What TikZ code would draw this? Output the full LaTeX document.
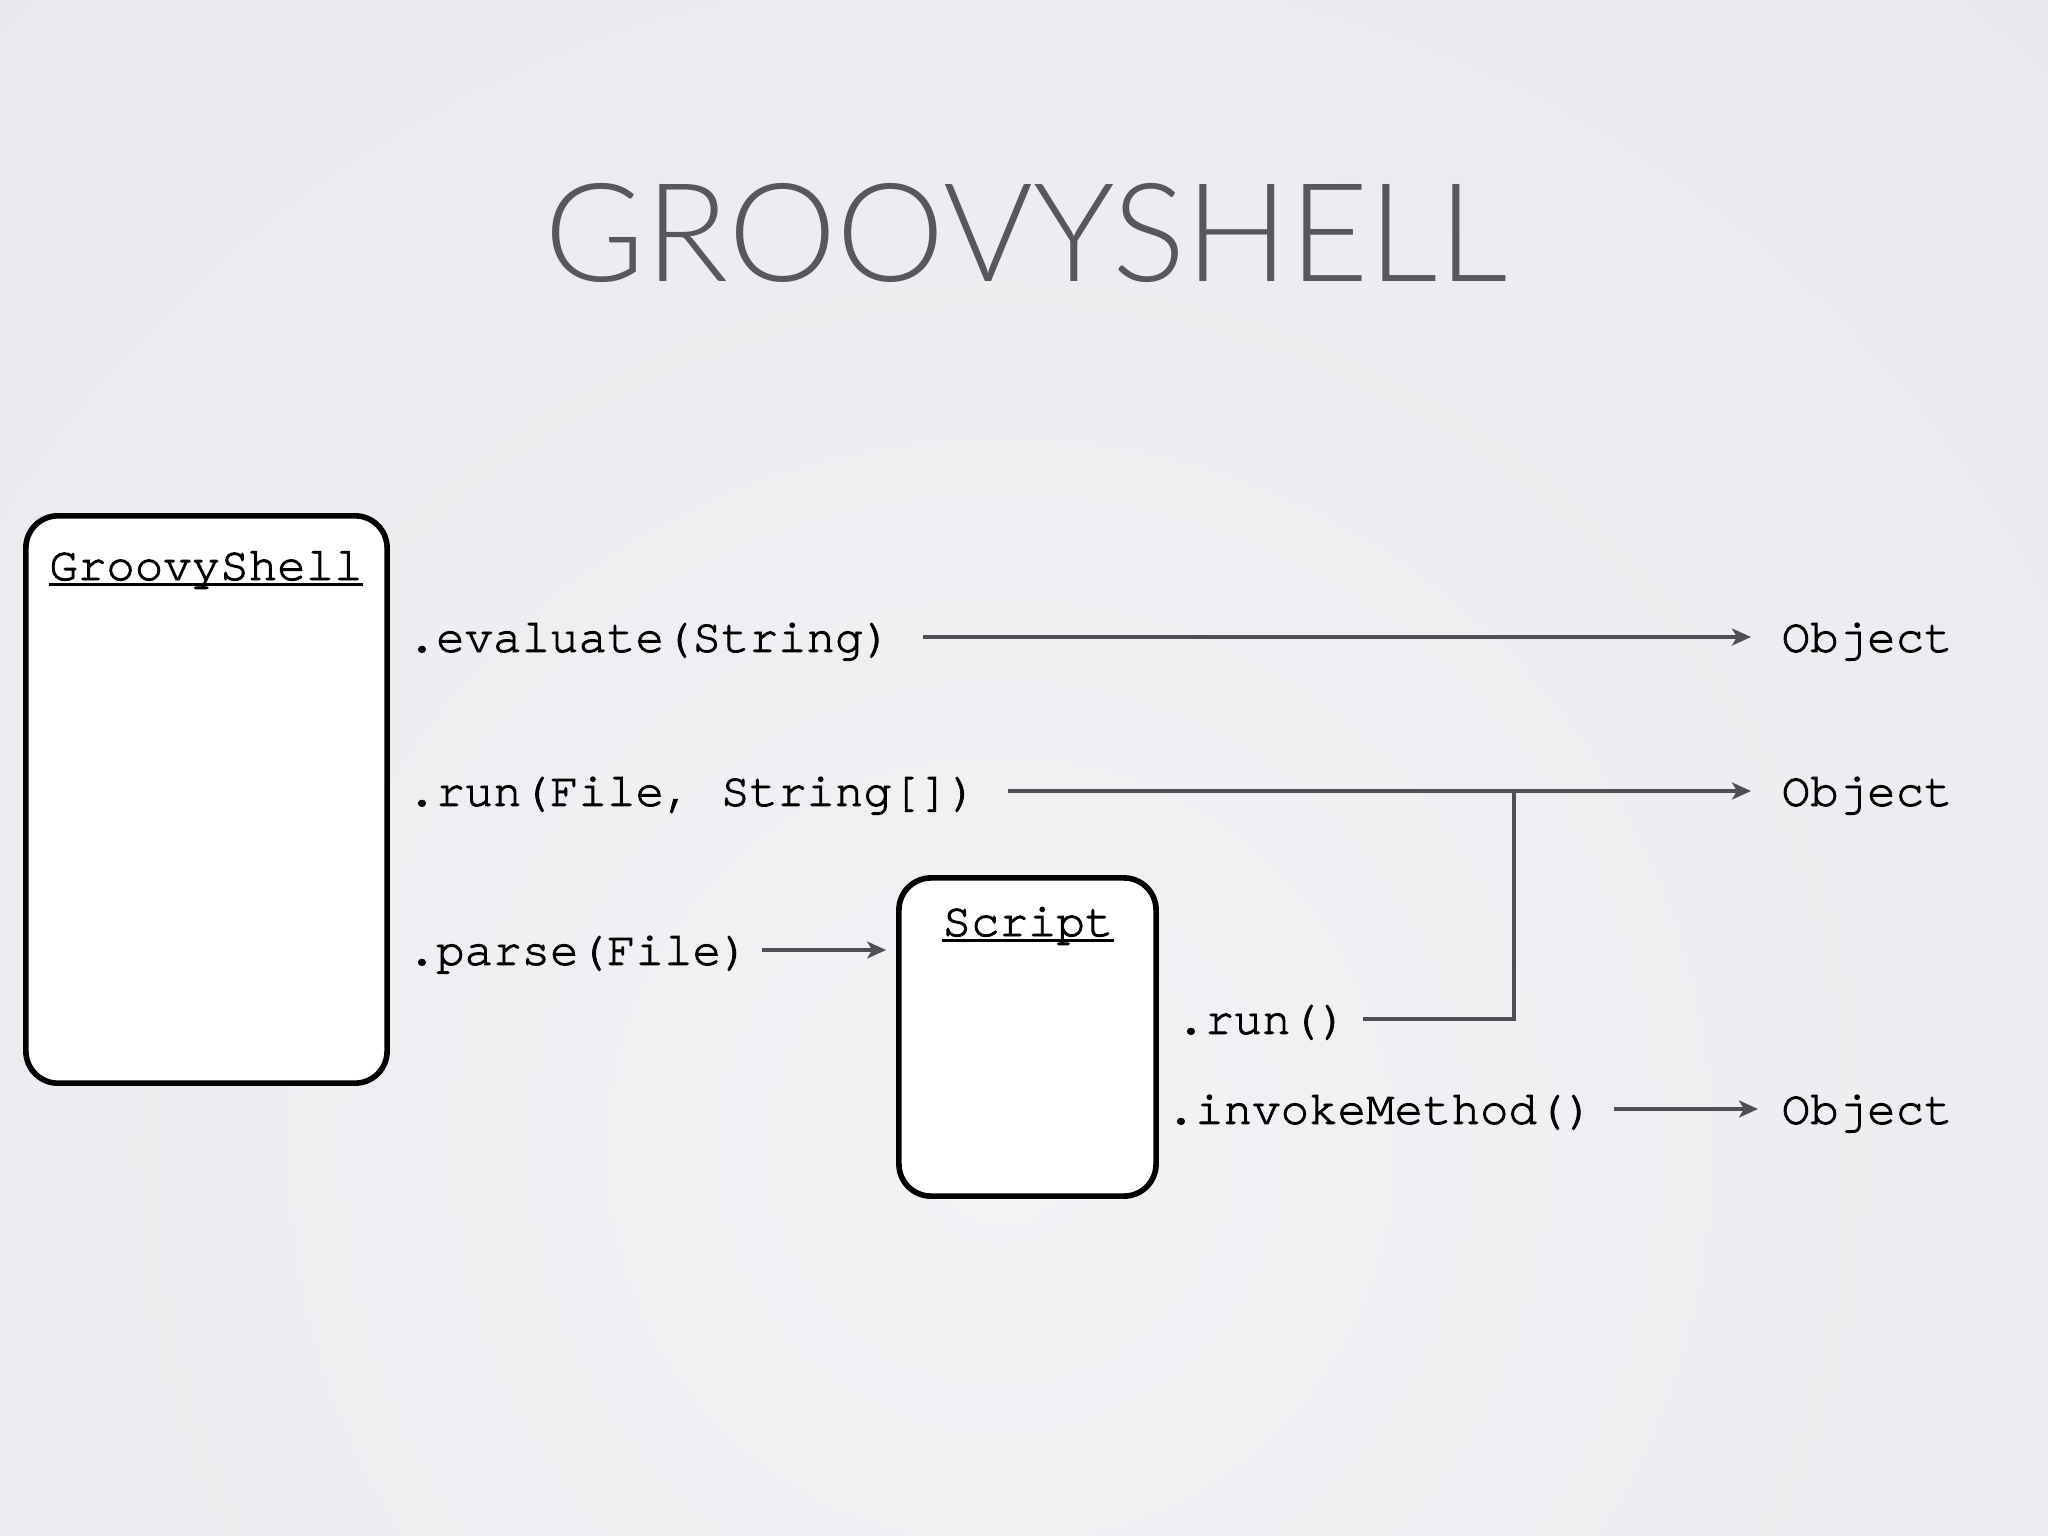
\documentclass[tikz,border=0pt]{standalone}
\usepackage{fontspec}
\setmonofont{texgyrecursor-regular.otf}[FakeBold=2]
\newfontfamily\titlefont{Lato}[UprightFont=* Light]
\usetikzlibrary{arrows.meta}
\definecolor{bgout}{HTML}{DFE0E5}
\definecolor{bgin}{HTML}{F2F3F5}
\definecolor{titlegray}{HTML}{58585C}
\definecolor{linegray}{HTML}{4F4F55}
\newcommand{\codefont}{\ttfamily\fontsize{13.5}{16}\selectfont}
\tikzset{
  classbox/.style={draw, line width=1.6pt, rounded corners=0.32cm, fill=white, inner sep=0pt},
  classname/.style={font=\codefont, inner sep=0pt, anchor=base},
  method/.style={font=\codefont, inner sep=0pt, text height=0.9em, text depth=0.06em, anchor=west},
  flow/.style={draw=linegray, line width=0.9pt, -{Stealth[length=0.19cm, width=0.17cm, inset=0.05cm]}},
  uline/.style={line width=0.7pt},
}
\begin{document}
\begin{tikzpicture}[x=0.01cm, y=-0.01cm]
% background
\useasboundingbox (0,0) rectangle (2048,1536);
\fill[bgout] (0,0) rectangle (2048,1536);
\begin{scope}
  \clip (0,0) rectangle (2048,1536);
  \shade[inner color=bgin, outer color=bgout] (1000,1150) circle (3000);
\end{scope}

% title
\node[font=\titlefont\fontsize{39}{44}\selectfont, text=titlegray, inner sep=0pt, anchor=base] (title) at (1026,281) {GROOVYSHELL};

% classes
\node[classbox, minimum width=3.61cm, minimum height=5.67cm] (gs) at (206.5,799.5) {};
\node[classname] (gsname) at (206,580) {GroovyShell};
\draw[uline] ([yshift=-1.3pt]gsname.base west) -- ([yshift=-1.3pt]gsname.base east);

\node[classbox, minimum width=2.57cm, minimum height=3.18cm] (script) at (1027.5,1037) {};
\node[classname] (scriptname) at (1028,936) {Script};
\draw[uline] ([yshift=-1.3pt]scriptname.base west) -- ([yshift=-1.3pt]scriptname.base east);

% methods
\node[method] (evaluate) at (407,637) {.evaluate(String)};
\node[method] (runfile) at (407,791) {.run(File, String[])};
\node[method] (parse) at (407,950) {.parse(File)};
\node[method] (run) at (1176,1019) {.run()};
\node[method] (invoke) at (1166,1109) {.invokeMethod()};

% results
\node[method] (obj1) at (1781,637) {Object};
\node[method] (obj2) at (1781,791) {Object};
\node[method] (obj3) at (1781,1109) {Object};
\coordinate (join) at (1514,791);

% connectors
\draw[flow, shorten <=0.3cm, shorten >=0.3cm] (evaluate) -- (obj1);
\draw[flow, shorten <=0.3cm, shorten >=0.3cm] (runfile) -- (obj2);
\draw[flow, shorten <=0.12cm, shorten >=0.1cm] (parse) -- (script.west |- parse.east);
\draw[draw=linegray, line width=0.9pt, shorten <=0.15cm] (run) -| (join);
\draw[flow, shorten <=0.19cm, shorten >=0.23cm] (invoke) -- (obj3);
\end{tikzpicture}
\end{document}
